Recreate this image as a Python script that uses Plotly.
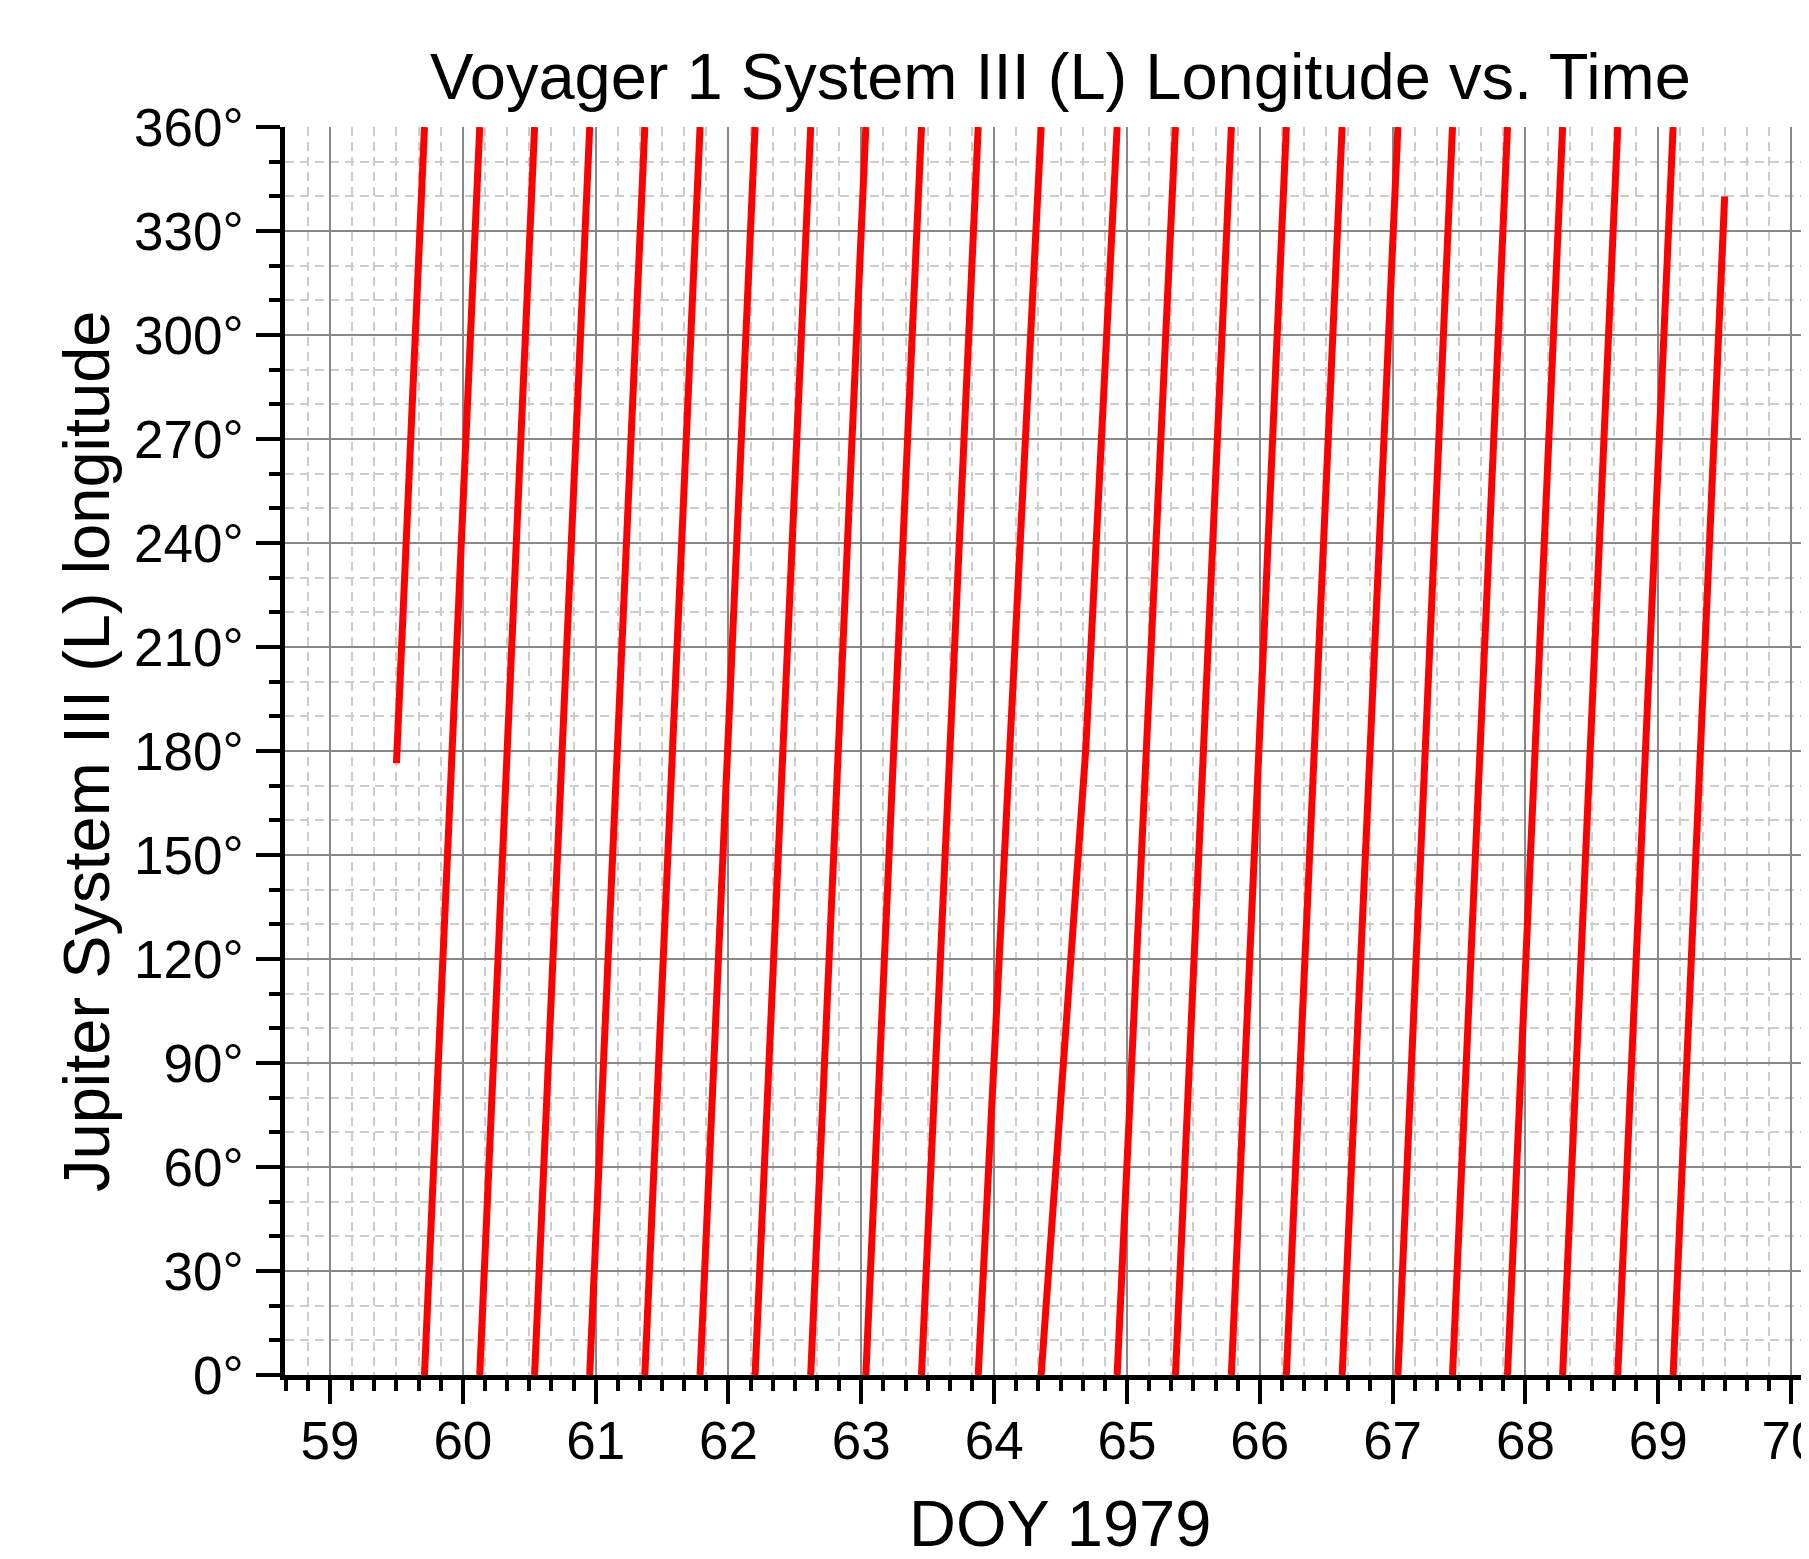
import plotly.graph_objects as go

# ---- data ----
start_doy = 59.5
start_lon = 176.5
# times (DOY 1979) where longitude wraps 360 -> 0
wrap_doy = [59.711, 60.127, 60.540, 60.955, 61.370, 61.786, 62.200, 62.619,
            63.034, 63.453, 63.880, 64.354, 64.926, 65.365, 65.786, 66.200,
            66.620, 67.040, 67.451, 67.865, 68.280, 68.695, 69.112]
end_doy = 69.5
end_lon = 340.0
# closest-approach rotation (curved segment) read point by point
ca_lon = [0, 30, 60, 90, 120, 150, 180, 210, 240, 270, 300, 330, 360]
ca_doy = [64.354, 64.410, 64.466, 64.527, 64.589, 64.642, 64.689, 64.729,
          64.768, 64.806, 64.843, 64.882, 64.926]

x_ticks = list(range(59, 71))
x_labels = [str(v) for v in x_ticks]
y_ticks = list(range(0, 361, 30))
y_labels = [f"{v}°" for v in y_ticks]

# ---- build the wrapped series ----
xs, ys = [start_doy, wrap_doy[0], None], [start_lon, 360, None]
for a, b in zip(wrap_doy[:-1], wrap_doy[1:]):
    if abs(a - ca_doy[0]) < 1e-6:
        xs += ca_doy + [None]
        ys += ca_lon + [None]
    else:
        xs += [a, b, None]
        ys += [0, 360, None]
xs += [wrap_doy[-1], end_doy]
ys += [0, end_lon]

# page body has an 8px margin: compensate so the plot lands where intended
OFF = 8
W, H = 1809 - OFF, 1559 - OFF
L, R, T, B = 285 - OFF, 0, 127 - OFF, 184
pw, ph = W - L - R, H - T - B

def px(x):
    return (x - OFF - L) / pw

def py(y):
    return (H - B - (y - OFF)) / ph

fig = go.Figure()
fig.add_trace(go.Scatter(x=xs, y=ys, mode="lines",
                         line=dict(color="#ff0000", width=7),
                         connectgaps=False, hoverinfo="skip"))

font_family = "Liberation Sans, Arial, sans-serif"
axis_common = dict(
    ticks="outside", ticklen=24, tickwidth=4, tickcolor="black",
    showline=True, linewidth=4.5, linecolor="black",
    showgrid=True, gridcolor="#888888", gridwidth=2,
    zeroline=False, automargin=False, ticklabeloverflow="allow",
    tickfont=dict(family=font_family, size=53, color="black"),
)

fig.update_xaxes(range=[58.661, 70.135], tickvals=x_ticks, ticktext=x_labels,
                 ticklabelstandoff=-8,
                 minor=dict(tick0=59, dtick=1/6, ticks="outside", ticklen=11,
                            tickwidth=4, tickcolor="black", showgrid=True,
                            gridcolor="#cccccc", gridwidth=2,
                            griddash="9px,6px"),
                 **axis_common)
fig.update_yaxes(range=[0, 360], tickvals=y_ticks, ticktext=y_labels,
                 ticklabelstandoff=2,
                 minor=dict(tick0=0, dtick=10, ticks="outside", ticklen=11,
                            tickwidth=4, tickcolor="black", showgrid=True,
                            gridcolor="#cccccc", gridwidth=2,
                            griddash="9px,6px"),
                 **axis_common)

fig.update_layout(
    width=W, height=H,
    margin=dict(l=L, r=R, t=T, b=B, pad=0),
    paper_bgcolor="white", plot_bgcolor="white",
    showlegend=False,
    font=dict(family=font_family, color="black"),
    annotations=[
        dict(text="Voyager 1 System III (L) Longitude vs. Time",
             xref="paper", yref="paper", x=px(1060), y=py(76),
             xanchor="center", yanchor="middle", showarrow=False,
             font=dict(family=font_family, size=65, color="black")),
        dict(text="DOY 1979",
             xref="paper", yref="paper", x=px(1060), y=py(1562),
             xanchor="center", yanchor="bottom", showarrow=False,
             font=dict(family=font_family, size=65, color="black")),
        dict(text="Jupiter System III (L) longitude", textangle=-90,
             xref="paper", yref="paper", x=px(86), y=py(751),
             xanchor="center", yanchor="middle", showarrow=False,
             font=dict(family=font_family, size=65, color="black")),
    ],
)

fig.write_html("out.html")
